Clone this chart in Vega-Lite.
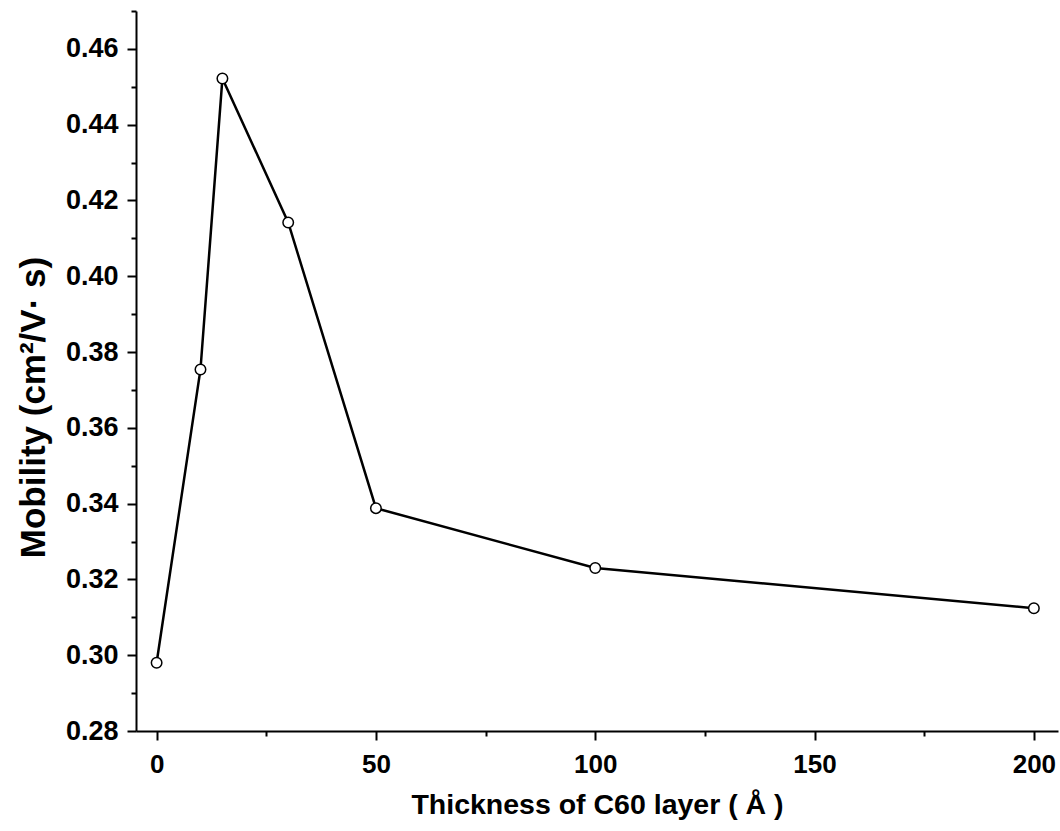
{
  "$schema": "https://vega.github.io/schema/vega-lite/v6.json",
  "autosize": "none",
  "width": 922,
  "height": 720,
  "padding": {"left": 136, "top": 11, "right": 2, "bottom": 100},
  "background": "white",
  "config": {"view": {"stroke": null}, "font": "Liberation Sans"},
  "data": {"values": [
    {"thickness": 0, "mobility": 0.298},
    {"thickness": 10, "mobility": 0.3754},
    {"thickness": 15, "mobility": 0.4522},
    {"thickness": 30, "mobility": 0.4142},
    {"thickness": 50, "mobility": 0.3388},
    {"thickness": 100, "mobility": 0.323},
    {"thickness": 200, "mobility": 0.3124}
  ]},
  "layer": [
    {
      "mark": {"type": "line", "color": "black", "strokeWidth": 2.5},
      "encoding": {
        "x": {"field": "thickness", "type": "quantitative",
          "scale": {"domain": [-4.7, 205.5], "nice": false, "zero": false},
          "axis": {"values": [0, 50, 100, 150, 200], "title": "Thickness of C60 layer ( Å )",
            "grid": false, "domainColor": "black", "domainWidth": 2, "tickColor": "black", "tickWidth": 2, "tickSize": 9,
            "labelFont": "Liberation Sans", "labelFontSize": 26, "labelFontWeight": "bold", "labelColor": "black", "labelPadding": 11,
            "titleFont": "Liberation Sans", "titleFontSize": 28.5, "titleFontWeight": "bold", "titleColor": "black",
            "titleBaseline": "alphabetic", "titleY": 82, "titleX": 461}},
        "y": {"field": "mobility", "type": "quantitative",
          "scale": {"domain": [0.28, 0.47], "nice": false, "zero": false},
          "axis": {"values": [0.28, 0.30, 0.32, 0.34, 0.36, 0.38, 0.40, 0.42, 0.44, 0.46], "format": ".2f",
            "title": "Mobility (cm²/V· s)",
            "grid": false, "domainColor": "black", "domainWidth": 2, "tickColor": "black", "tickWidth": 2, "tickSize": 9,
            "labelFont": "Liberation Sans", "labelFontSize": 27, "labelFontWeight": "bold", "labelColor": "black", "labelPadding": 9,
            "titleFont": "Liberation Sans", "titleFontSize": 35, "titleFontWeight": "bold", "titleColor": "black",
            "titleAngle": -90, "titleAlign": "center", "titleBaseline": "middle", "titleX": -103, "titleY": 396}}
      }
    },
    {
      "mark": {"type": "point", "shape": "circle", "filled": true, "fill": "white", "stroke": "black", "strokeWidth": 1.5, "size": 110, "opacity": 1},
      "encoding": {
        "x": {"field": "thickness", "type": "quantitative",
          "scale": {"domain": [-4.7, 205.5], "nice": false, "zero": false},
          "axis": {"orient": "bottom", "values": [25, 75, 125, 175], "labels": false, "domain": false, "title": null,
            "grid": false, "tickColor": "black", "tickWidth": 2, "tickSize": 5}},
        "y": {"field": "mobility", "type": "quantitative",
          "scale": {"domain": [0.28, 0.47], "nice": false, "zero": false},
          "axis": {"orient": "left", "values": [0.29, 0.31, 0.33, 0.35, 0.37, 0.39, 0.41, 0.43, 0.45, 0.47], "labels": false, "domain": false, "title": null,
            "grid": false, "tickColor": "black", "tickWidth": 2, "tickSize": 5}}
      }
    }
  ],
  "resolve": {"scale": {"x": "independent", "y": "independent"}, "axis": {"x": "independent", "y": "independent"}}
}
